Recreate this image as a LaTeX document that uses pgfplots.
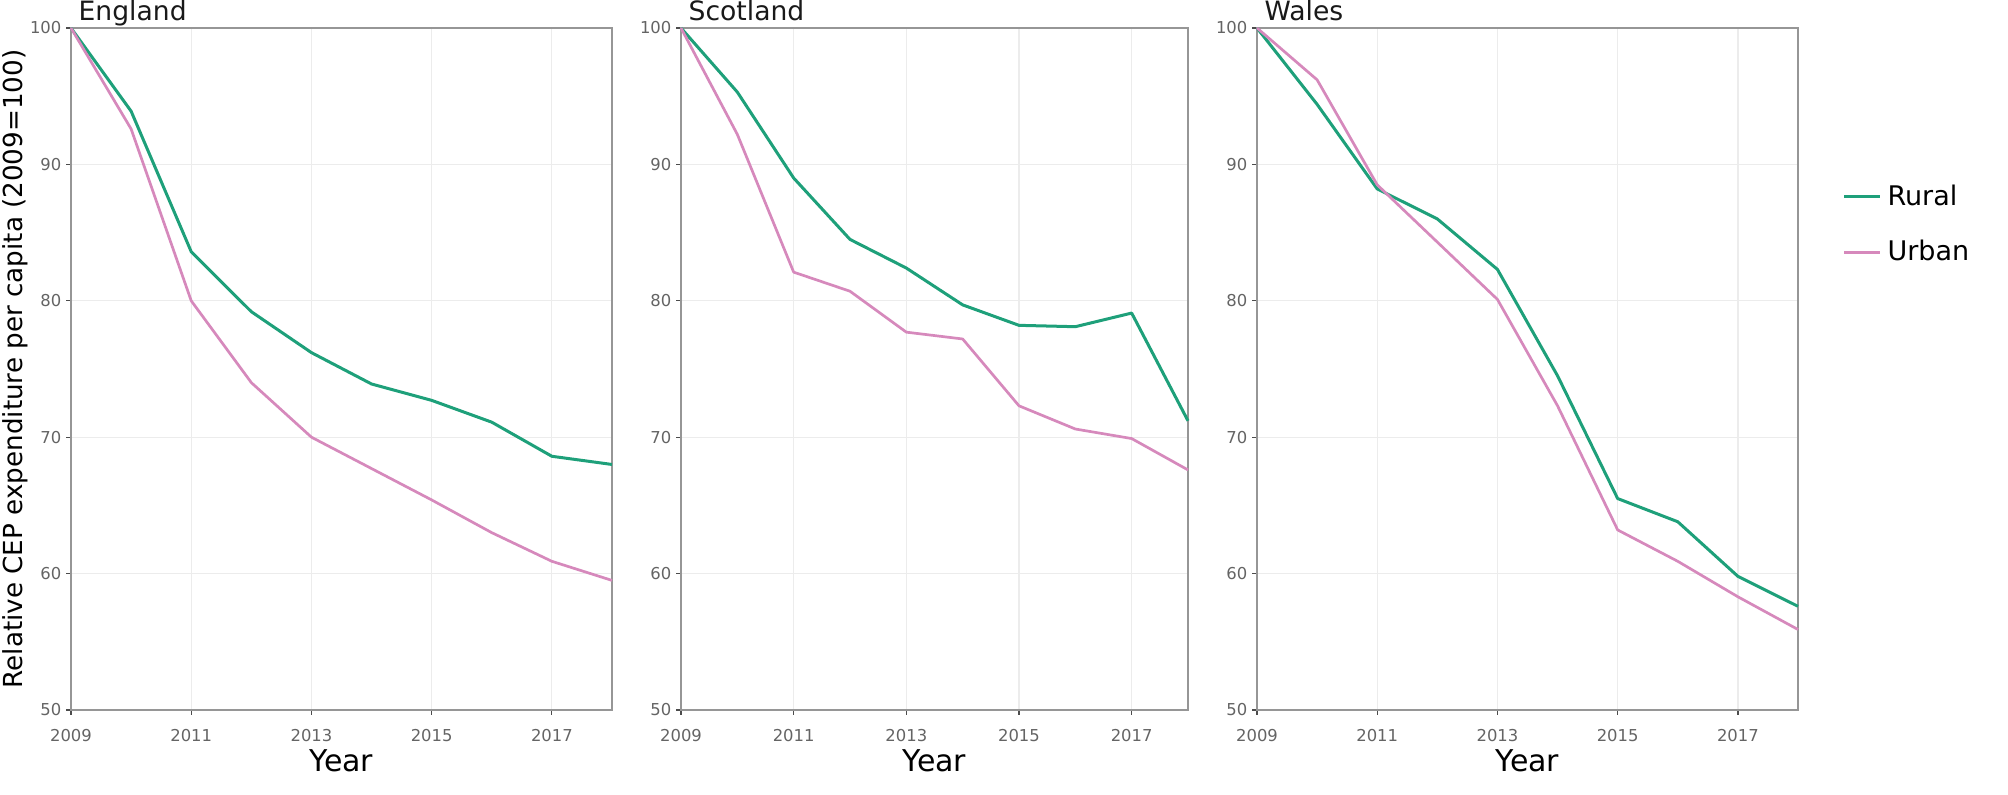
\documentclass[border=0pt]{standalone}
\usepackage{fontspec}
\setmainfont{DejaVu Sans}
\usepackage{pgfplots}
\pgfplotsset{compat=1.18}
\definecolor{rural}{RGB}{30,160,122}
\definecolor{urban}{RGB}{214,137,188}
\definecolor{axisgrey}{RGB}{150,150,150}
\definecolor{gridgrey}{RGB}{236,236,236}
\definecolor{ticktext}{RGB}{100,100,100}
\pgfplotsset{
  panel/.style={
    scale only axis,
    height=341pt,
    xmin=2009, xmax=2018,
    ymin=50, ymax=100,
    xtick={2009,2011,2013,2015,2017},
    ytick={50,60,70,80,90,100},
    tick align=outside,
    major tick length=2.5pt,
    xtick pos=bottom, ytick pos=left,
    tick style={color=black!70, line width=0.6pt},
    axis line style={color=axisgrey, line width=0.9pt},
    grid=major,
    major grid style={color=gridgrey, line width=0.6pt},
    /pgf/number format/assume math mode=true,
    /pgf/number format/1000 sep={},
    ticklabel style={font=\fontsize{8.2}{9}\selectfont, text=ticktext},
    xticklabel style={yshift=-3.6pt},
    yticklabel style={xshift=1.2pt},
    title style={at={(rel axis cs:0,1)}, anchor=base west, xshift=0.3pt, yshift=-2.5pt,
                 font=\fontsize{13.3}{15}\selectfont, text=black!90},
    xlabel={Year},
    xlabel style={at={(rel axis cs:0.5,-0.075)}, anchor=center, font=\fontsize{15}{17}\selectfont},
    clip=false,
  },
  rural line/.style={color=rural, line width=1.5pt, line join=round},
  urban line/.style={color=urban, line width=1.35pt, line join=round},
}
\begin{document}
\begin{tikzpicture}
\useasboundingbox (0,0) rectangle (1004pt,397.5pt);
% England
\begin{axis}[panel, at={(35.5pt,42.5pt)}, anchor=south west, width=270.5pt,
  title={England},
  ylabel={Relative CEP expenditure per capita (2009=100)},
  ylabel style={at={(rel axis cs:-0.1035,0.5)}, anchor=center, font=\fontsize{13.1}{15}\selectfont}]
\addplot[rural line] coordinates {(2009,100) (2010,93.9) (2011,83.6) (2012,79.2) (2013,76.2) (2014,73.9) (2015,72.7) (2016,71.1) (2017,68.6) (2018,68.0)};
\addplot[urban line] coordinates {(2009,100) (2010,92.6) (2011,80.0) (2012,74.0) (2013,70.0) (2014,67.7) (2015,65.4) (2016,63.0) (2017,60.9) (2018,59.5)};
\end{axis}
% Scotland
\begin{axis}[panel, at={(340.5pt,42.5pt)}, anchor=south west, width=253.5pt,
  title={Scotland}]
\addplot[rural line] coordinates {(2009,100) (2010,95.3) (2011,89.0) (2012,84.5) (2013,82.4) (2014,79.7) (2015,78.2) (2016,78.1) (2017,79.1) (2018,71.2)};
\addplot[urban line] coordinates {(2009,100) (2010,92.2) (2011,82.1) (2012,80.7) (2013,77.7) (2014,77.2) (2015,72.3) (2016,70.6) (2017,69.9) (2018,67.6)};
\end{axis}
% Wales
\begin{axis}[panel, at={(628.5pt,42.5pt)}, anchor=south west, width=270.5pt,
  title={Wales},
  legend cell align=left,
  legend style={at={(rel axis cs:1.0815,0.712)}, anchor=west, draw=none, fill=none,
    font=\fontsize{13.5}{16}\selectfont, row sep=12pt, inner sep=0pt,
    nodes={inner sep=2pt, inner xsep=3pt}},
  legend image code/.code={\draw[#1] (0pt,0pt) -- (18pt,0pt);}]
\addplot[rural line] coordinates {(2009,100) (2010,94.4) (2011,88.2) (2012,86.0) (2013,82.3) (2014,74.5) (2015,65.5) (2016,63.8) (2017,59.8) (2018,57.6)};
\addlegendentry{Rural}
\addplot[urban line] coordinates {(2009,100) (2010,96.2) (2011,88.5) (2012,84.3) (2013,80.1) (2014,72.3) (2015,63.2) (2016,60.9) (2017,58.3) (2018,55.9)};
\addlegendentry{Urban}
\end{axis}
\end{tikzpicture}
\end{document}
